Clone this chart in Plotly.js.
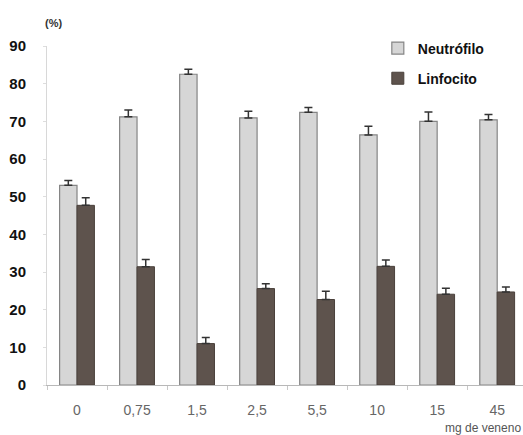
<!DOCTYPE html>
<html>
<head>
<meta charset="utf-8">
<script src="https://cdn.plot.ly/plotly-3.0.1.min.js"></script>
<style>html,body{margin:0;padding:0;background:#fff;}#chart{width:523px;height:435px;}</style>
</head>
<body>
<div id="chart"></div>
<script>
const categories = ["0", "0,75", "1,5", "2,5", "5,5", "10", "15", "45"];
const neutrofilo = [53.0, 71.2, 82.5, 70.9, 72.4, 66.4, 70.0, 70.4];
const neutrofiloErr = [1.3, 1.8, 1.3, 1.8, 1.3, 2.3, 2.5, 1.4];
const linfocito = [47.7, 31.4, 11.0, 25.6, 22.7, 31.5, 24.1, 24.7];
const linfocitoErr = [2.0, 1.9, 1.6, 1.3, 2.2, 1.7, 1.6, 1.3];
const yTicks = [0, 10, 20, 30, 40, 50, 60, 70, 80, 90];

const zeros = categories.map(() => 0);

const traces = [
  {
    type: "bar", name: "Neutrófilo", x: categories, y: neutrofilo,
    legendgroup: "a",
    marker: { color: "#d6d6d6", line: { color: "#858585", width: 1.2 } },
    error_y: { type: "data", array: neutrofiloErr, arrayminus: zeros, symmetric: false,
               color: "#333333", thickness: 1.5, width: 4 }
  },
  {
    type: "bar", name: "Linfocito", x: categories, y: linfocito,
    legendgroup: "b",
    marker: { color: "#5e534d", line: { color: "#4a403b", width: 1 } },
    error_y: { type: "data", array: linfocitoErr, arrayminus: zeros, symmetric: false,
               color: "#333333", thickness: 1.5, width: 4 }
  }
];

const layout = {
  width: 523, height: 435,
  margin: { l: 47, r: 0, t: 46, b: 50, pad: 0 },
  paper_bgcolor: "#ffffff", plot_bgcolor: "#ffffff",
  barmode: "group", bargap: 0.42, bargroupgap: 0,
  font: { family: "Liberation Sans, Arial, sans-serif", color: "#111" },
  xaxis: {
    type: "category", range: [-0.5, 7.43],
    showline: true, linecolor: "#b8b8b8", linewidth: 1,
    ticks: "outside", tickson: "boundaries", ticklen: 4, tickcolor: "#c8c8c8",
    tickfont: { size: 14, color: "#666666" }, ticklabelstandoff: 12,
    showgrid: false, zeroline: false, fixedrange: true
  },
  yaxis: {
    range: [0, 90], tickvals: yTicks, ticktext: yTicks.map(String),
    showline: true, linecolor: "#d8d8d8", linewidth: 1,
    ticks: "outside", ticklen: 3, tickcolor: "#dddddd",
    tickfont: { size: 15, color: "#111111", weight: "bold" }, ticklabelstandoff: 14,
    showgrid: false, zeroline: false, fixedrange: true
  },
  legend: {
    x: 0.695, y: 1.04, xanchor: "left", yanchor: "top",
    font: { size: 14, color: "#111111", weight: "bold" },
    tracegroupgap: 9, itemwidth: 30, bgcolor: "rgba(0,0,0,0)"
  },
  annotations: [
    { text: "(%)", xref: "paper", yref: "paper", x: -0.008, y: 1.068, xanchor: "left", yanchor: "middle",
      showarrow: false, font: { size: 11, color: "#333", weight: "bold" } },
    { text: "mg de veneno", xref: "paper", yref: "paper", x: 1.0, y: -0.127, xanchor: "right", yanchor: "middle",
      showarrow: false, font: { size: 12, color: "#555" } }
  ],
  showlegend: true
};

Plotly.newPlot("chart", traces, layout, { displayModeBar: false, staticPlot: true });
</script>
</body>
</html>
